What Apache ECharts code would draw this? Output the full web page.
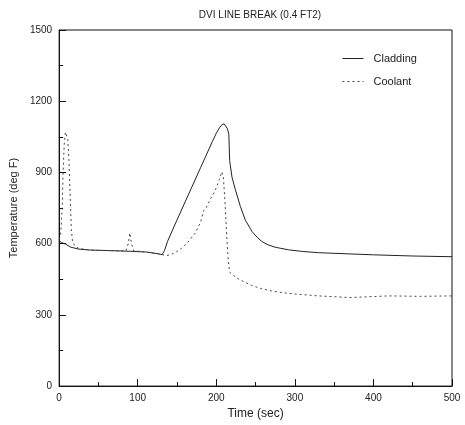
<!DOCTYPE html>
<html>
<head>
<meta charset="utf-8">
<script src="https://cdn.jsdelivr.net/npm/echarts@6/dist/echarts.min.js"></script>
<style>
html,body{margin:0;padding:0;background:#fff;}
#chart{width:465px;height:425px;}
</style>
</head>
<body>
<div id="chart"></div>
<script>
var titleText = "DVI LINE BREAK (0.4 FT2)";
var xTicks = [0, 100, 200, 300, 400, 500];
var yTicks = [0, 300, 600, 900, 1200, 1500];

var cladTime = [0, 3, 8, 15, 25, 40, 60, 90, 110, 125, 131, 134, 138, 150, 165, 180, 195, 200, 204, 207, 210, 212, 214, 216, 217, 220, 224.5, 230.7, 237, 245.5, 252, 258, 266, 275, 292, 310, 330, 360, 400, 450, 500];
var cladTemp = [612, 605, 598, 585, 577, 573, 571, 568, 565, 558, 554, 570, 610, 700, 810, 920, 1030, 1065, 1088, 1100, 1105, 1100, 1085, 1061, 950, 880, 825, 756, 699, 651, 627, 609, 595, 585, 574, 567, 562, 558, 553, 548, 545];

var coolTime = [0, 2, 4, 5, 6.5, 8, 9.5, 11, 12.5, 14, 15.5, 17, 20, 25, 40, 60, 85, 88, 90, 92, 95, 110, 125, 131, 135, 141, 148, 156, 165, 173, 180, 184, 187, 192, 198, 204, 207, 209, 211, 213, 215, 217, 222, 228, 235, 245, 258, 270, 285, 300, 330, 370, 420, 460, 500];
var coolTemp = [618, 640, 760, 900, 1020, 1070, 1075, 1040, 950, 800, 660, 610, 590, 580, 573, 571, 569, 600, 645, 600, 570, 565, 558, 554, 550, 552, 563, 581, 610, 644, 690, 740, 750, 785, 819, 870, 903, 880, 780, 650, 540, 480, 466, 452, 440, 424, 410, 401, 393, 388, 380, 373, 380, 378, 380];

function pairs(xs, ys) {
  var out = [];
  for (var i = 0; i < xs.length; i++) out.push([xs[i], ys[i]]);
  return out;
}

var chart = echarts.init(document.getElementById('chart'), null, {renderer: 'canvas'});
var fontFam = '"Liberation Sans", Arial, sans-serif';
chart.setOption({
  animation: false,
  backgroundColor: '#fff',
  title: {
    text: titleText,
    left: 255, top: 5,
    textAlign: 'center',
    textStyle: {fontFamily: fontFam, fontSize: 10, fontWeight: 'normal', color: '#222'}
  },
  legend: {
    orient: 'vertical',
    left: 337, top: 48,
    itemWidth: 21, itemHeight: 10, itemGap: 12,
    itemStyle: {opacity: 0},
    lineStyle: {width: 1},
    textStyle: {fontFamily: fontFam, fontSize: 11, color: '#222', padding: [0, 0, 0, 5]},
    data: ['Cladding', 'Coolant']
  },
  grid: {
    left: 58, right: 13, top: 30, bottom: 36,
    show: true, borderColor: '#111', borderWidth: 1
  },
  xAxis: {
    type: 'value', min: xTicks[0], max: xTicks[xTicks.length - 1], interval: 100,
    name: 'Time (sec)', nameLocation: 'middle', nameGap: 20,
    nameTextStyle: {fontFamily: fontFam, fontSize: 12, color: '#222'},
    axisLine: {lineStyle: {color: '#111', width: 1}},
    axisTick: {inside: true, length: 7, lineStyle: {color: '#111'}},
    minorTick: {show: true, splitNumber: 2, length: 4, lineStyle: {color: '#111'}},
    axisLabel: {fontFamily: fontFam, fontSize: 10, color: '#222', margin: 7},
    splitLine: {show: false}
  },
  yAxis: {
    type: 'value', min: yTicks[0], max: yTicks[yTicks.length - 1], interval: 300,
    name: 'Temperature (deg F)', nameLocation: 'middle', nameGap: 38,
    nameTextStyle: {fontFamily: fontFam, fontSize: 11, color: '#222'},
    axisLine: {show: true, lineStyle: {color: '#111', width: 1}},
    axisTick: {show: true, inside: true, length: 7, lineStyle: {color: '#111'}},
    minorTick: {show: true, splitNumber: 2, length: 4, lineStyle: {color: '#111'}},
    axisLabel: {fontFamily: fontFam, fontSize: 10, color: '#222', margin: 7, formatter: function (v) { return String(v); }},
    splitLine: {show: false}
  },
  series: [
    {
      name: 'Cladding', type: 'line', symbol: 'none',
      data: pairs(cladTime, cladTemp),
      lineStyle: {color: '#222', width: 1},
      itemStyle: {color: '#222'}
    },
    {
      name: 'Coolant', type: 'line', symbol: 'none',
      data: pairs(coolTime, coolTemp),
      lineStyle: {color: '#444', width: 1, type: [2, 3]},
      itemStyle: {color: '#444'}
    }
  ]
});
</script>
</body>
</html>
